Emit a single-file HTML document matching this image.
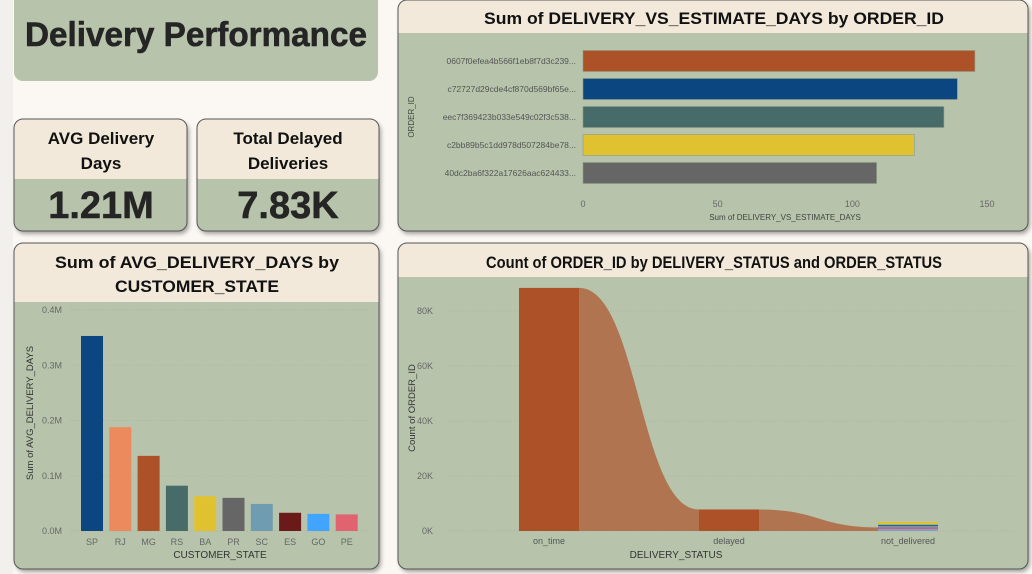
<!DOCTYPE html>
<html><head><meta charset="utf-8"><style>
html,body{margin:0;padding:0;background:#fbf8f3;}
svg{display:block;font-family:"Liberation Sans","DejaVu Sans",sans-serif;}
</style></head><body>
<svg id="root" width="1032" height="574" viewBox="0 0 1032 574">
<defs>
<filter id="sh" x="-5%" y="-5%" width="112%" height="115%"><feDropShadow dx="2" dy="3" stdDeviation="2" flood-color="#000" flood-opacity="0.35"/></filter>
<clipPath id="c1"><rect x="14" y="119" width="173" height="112" rx="9"/></clipPath>
<clipPath id="c2"><rect x="197" y="119" width="182" height="112" rx="9"/></clipPath>
<clipPath id="c3"><rect x="398" y="0" width="630" height="231" rx="9"/></clipPath>
<clipPath id="c4"><rect x="14" y="243" width="365" height="326" rx="9"/></clipPath>
<clipPath id="c5"><rect x="398" y="243" width="630" height="326" rx="9"/></clipPath>
</defs>
<rect x="0" y="0" width="13" height="574" fill="#f2f0ed"/>

<g>
<rect x="14" y="-8" width="364" height="89" rx="9" fill="#b7c4ab"/>
<text x="196" y="46" text-anchor="middle" font-size="34" font-weight="bold" fill="#252525" stroke="#252525" stroke-width="0.6" textLength="342" lengthAdjust="spacingAndGlyphs">Delivery Performance</text>
</g>

<g>
<rect x="14" y="119" width="173" height="112" rx="9" fill="#b7c4ab" filter="url(#sh)"/>
<g clip-path="url(#c1)"><rect x="14" y="119" width="173" height="60" fill="#f2e9da"/></g>
<rect x="14" y="119" width="173" height="112" rx="9" fill="none" stroke="#555" stroke-width="1"/>
<text x="101" y="144" text-anchor="middle" font-size="17" font-weight="bold" fill="#111">AVG Delivery</text>
<text x="101" y="169" text-anchor="middle" font-size="17" font-weight="bold" fill="#111">Days</text>
<text x="101" y="218" text-anchor="middle" font-size="38" font-weight="bold" fill="#252525" stroke="#252525" stroke-width="0.5">1.21M</text>
</g>
<g>
<rect x="197" y="119" width="182" height="112" rx="9" fill="#b7c4ab" filter="url(#sh)"/>
<g clip-path="url(#c2)"><rect x="197" y="119" width="182" height="60" fill="#f2e9da"/></g>
<rect x="197" y="119" width="182" height="112" rx="9" fill="none" stroke="#555" stroke-width="1"/>
<text x="288" y="144" text-anchor="middle" font-size="17" font-weight="bold" fill="#111">Total Delayed</text>
<text x="288" y="169" text-anchor="middle" font-size="17" font-weight="bold" fill="#111">Deliveries</text>
<text x="288" y="218" text-anchor="middle" font-size="38" font-weight="bold" fill="#252525" stroke="#252525" stroke-width="0.5">7.83K</text>
</g>

<g>
<rect x="398" y="0" width="630" height="231" rx="9" fill="#b7c4ab" filter="url(#sh)"/>
<g clip-path="url(#c3)"><rect x="398" y="0" width="630" height="33" fill="#f2e9da"/></g>
<rect x="398" y="0" width="630" height="231" rx="9" fill="none" stroke="#555" stroke-width="1"/>
<text x="714" y="24" text-anchor="middle" font-size="17" font-weight="bold" fill="#111" textLength="460" lengthAdjust="spacingAndGlyphs">Sum of DELIVERY_VS_ESTIMATE_DAYS by ORDER_ID</text>
<g id="hbar"></g>
</g>

<g>
<rect x="14" y="243" width="365" height="326" rx="9" fill="#b7c4ab" filter="url(#sh)"/>
<g clip-path="url(#c4)"><rect x="14" y="243" width="365" height="59" fill="#f2e9da"/></g>
<rect x="14" y="243" width="365" height="326" rx="9" fill="none" stroke="#555" stroke-width="1"/>
<text x="197" y="268" text-anchor="middle" font-size="17" font-weight="bold" fill="#111" textLength="284" lengthAdjust="spacingAndGlyphs">Sum of AVG_DELIVERY_DAYS by</text>
<text x="197" y="292" text-anchor="middle" font-size="17" font-weight="bold" fill="#111" textLength="164" lengthAdjust="spacingAndGlyphs">CUSTOMER_STATE</text>
<g id="vbar"></g>
</g>

<g>
<rect x="398" y="243" width="630" height="326" rx="9" fill="#b7c4ab" filter="url(#sh)"/>
<g clip-path="url(#c5)"><rect x="398" y="243" width="630" height="34" fill="#f2e9da"/></g>
<rect x="398" y="243" width="630" height="326" rx="9" fill="none" stroke="#555" stroke-width="1"/>
<text x="714" y="268" text-anchor="middle" font-size="17" font-weight="bold" fill="#111" textLength="456" lengthAdjust="spacingAndGlyphs">Count of ORDER_ID by DELIVERY_STATUS and ORDER_STATUS</text>
<g id="ribbon"></g>
</g>
</svg>
<script>
// ---- horizontal bar data
const orderIds = ['0607f0efea4b566f1eb8f7d3c239...','c72727d29cde4cf870d569bf65e...','eec7f369423b033e549c02f3c538...','c2bb89b5c1dd978d507284be78...','40dc2ba6f322a17626aac624433...'];
const orderValues = [145.5, 139, 134, 123, 109];
const orderTicks = [0, 50, 100, 150];
// ---- state bar data
const states = ['SP','RJ','MG','RS','BA','PR','SC','ES','GO','PE'];
const stateValues = [0.353, 0.188, 0.136, 0.082, 0.063, 0.060, 0.049, 0.033, 0.031, 0.030];
const stateTicks = [0, 0.1, 0.2, 0.3, 0.4];
// ---- ribbon data (K)
const statuses = ['on_time','delayed','not_delivered'];
const statusCounts = [88.4, 7.83, 3.3];
const notDeliveredParts = [0.8, 0.5, 0.5, 0.5, 1.0];
const ribbonTicks = [0, 20, 40, 60, 80];

const NS='http://www.w3.org/2000/svg';
function mk(parent, tag, attrs, text){const e=document.createElementNS(NS,tag);for(const k in attrs)e.setAttribute(k,attrs[k]);if(text!==undefined)e.textContent=text;parent.appendChild(e);return e;}

// horizontal bar
(function(){
  const g=document.getElementById('hbar');
  const x=v=>583+v*(404/150);
  const y=i=>61+i*28;
  const cols=['#ad5129','#0b4680','#476b69','#e0c230','#666666'];
  orderTicks.forEach(t=>{
    const tx=mk(g,'text',{x:x(t),y:207,'text-anchor':'middle','font-size':9,fill:'#666'},t);
    
    
  });
  orderIds.forEach((id,i)=>{
    const r=mk(g,'rect',{x:x(0),y:y(i)-10.5,width:x(orderValues[i])-x(0),height:21,fill:cols[i],stroke:'#8a9a80','stroke-width':0.6});
    
    
    const l=mk(g,'text',{x:576,y:y(i)+3,'text-anchor':'end','font-size':8.5,fill:'#555'},id);
    
    
  });
  const at=mk(g,'text',{x:785,y:220,'text-anchor':'middle','font-size':8,fill:'#444'},'Sum of DELIVERY_VS_ESTIMATE_DAYS');
  
  
  const yt=mk(g,'text',{x:0,y:0,'text-anchor':'middle','font-size':8,fill:'#444',transform:'translate(414,117) rotate(-90)'},'ORDER_ID');
  
  
})();

// state bar
(function(){
  const g=document.getElementById('vbar');
  const y=v=>531-v*(221/0.4);
  const x=i=>92+i*28.3;
  const cols=['#0b4680','#ec8a5e','#ad5129','#476b69','#e0c230','#666666','#6f9cb0','#6b1a1a','#41a5ff','#e0636f'];
  stateTicks.forEach(t=>{
    mk(g,'line',{x1:70,x2:368,y1:y(t),y2:y(t),stroke:'#a9b69d','stroke-dasharray':'1 2','stroke-width':1});
    const tx=mk(g,'text',{x:62,y:y(t)+3,'text-anchor':'end','font-size':9,fill:'#666'},t.toFixed(1)+'M');
    
    
  });
  states.forEach((s,i)=>{
    const r=mk(g,'rect',{x:x(i)-11,y:y(stateValues[i]),width:22,height:y(0)-y(stateValues[i]),fill:cols[i]});
    
    
    const l=mk(g,'text',{x:x(i),y:545,'text-anchor':'middle','font-size':9,fill:'#666'},s);
    
    
  });
  const at=mk(g,'text',{x:220,y:558,'text-anchor':'middle','font-size':10,fill:'#333'},'CUSTOMER_STATE');
  
  
  const yt=mk(g,'text',{x:0,y:0,'text-anchor':'middle','font-size':9.5,fill:'#333',transform:'translate(33,413) rotate(-90)'},'Sum of AVG_DELIVERY_DAYS');
  
  
})();

// ribbon chart
(function(){
  const g=document.getElementById('ribbon');
  const y=v=>531-v*(220/80);
  const xs=[519,699,878], w=60;
  ribbonTicks.forEach(t=>{
    mk(g,'line',{x1:445,x2:1015,y1:y(t),y2:y(t),stroke:'#a9b69d','stroke-dasharray':'1 2','stroke-width':1});
    const tx=mk(g,'text',{x:433,y:y(t)+3,'text-anchor':'end','font-size':9,fill:'#666'},t+'K');
    
    
  });
  for(let i=0;i<statuses.length-1;i++){
    const x1=xs[i]+w, x2=xs[i+1], y1=y(statusCounts[i]), y2=y(i===0?statusCounts[1]:statusCounts[2]*0.4), b=y(0);
    const mx=(x1+x2)/2;
    const p=mk(g,'path',{d:`M${x1},${y1} C${mx},${y1} ${mx},${y2} ${x2},${y2} L${x2},${b} L${x1},${b} Z`,fill:'#b07450'});
    
    
  }
  const r0=mk(g,'rect',{x:xs[0],y:y(statusCounts[0]),width:w,height:y(0)-y(statusCounts[0]),fill:'#ad5129'});
  
  
  const r1=mk(g,'rect',{x:xs[1],y:y(statusCounts[1]),width:w,height:y(0)-y(statusCounts[1]),fill:'#ad5129'});
  
  
  const pc=['#7fa0c8','#d64b6a','#6f9cb0','#0b6bb8','#e0c230'];
  let acc=0;
  notDeliveredParts.forEach((v,i)=>{
    const s=mk(g,'rect',{x:xs[2],y:y(acc+v),width:w,height:y(acc)-y(acc+v),fill:pc[i]});
    
    
    acc+=v;
  });
  statuses.forEach((s,i)=>{
    const l=mk(g,'text',{x:xs[i]+w/2,y:544,'text-anchor':'middle','font-size':9,fill:'#555'},s);
    
    
  });
  const at=mk(g,'text',{x:676,y:558,'text-anchor':'middle','font-size':10,fill:'#333'},'DELIVERY_STATUS');
  
  
  const yt=mk(g,'text',{x:0,y:0,'text-anchor':'middle','font-size':9.5,fill:'#333',transform:'translate(415,408) rotate(-90)'},'Count of ORDER_ID');
  
  
})();
</script>
</body></html>
